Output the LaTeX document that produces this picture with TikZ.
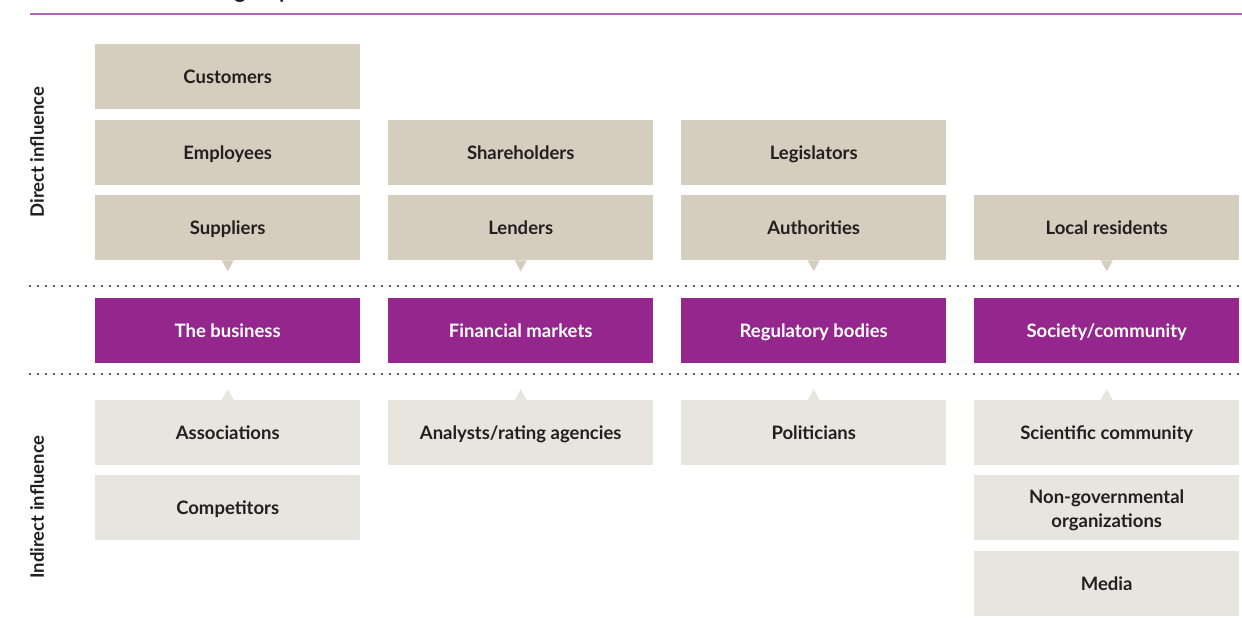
\documentclass[tikz,border=0pt]{standalone}
\usepackage{fontspec}
\setmainfont{Lato}
\definecolor{beige}{RGB}{213,205,190}
\definecolor{sand}{RGB}{232,228,222}
\definecolor{plum}{RGB}{148,38,142}
\definecolor{rulecol}{RGB}{183,100,182}
\definecolor{ink}{RGB}{35,31,32}
\begin{document}
\begin{tikzpicture}[x=1pt,y=-1pt,
  box/.style={minimum width=265pt, minimum height=65pt, inner sep=0pt,
    anchor=north west, align=center, text=ink,
    font=\fontsize{18.5}{24}\selectfont\bfseries},
  oneline/.style={text height=17pt, text depth=3pt},
  direct/.style={box, oneline, fill=beige},
  indirect/.style={box, oneline, fill=sand},
  indirecttwo/.style={box, fill=sand},
  hub/.style={box, oneline, fill=plum, text=white},
  sidelabel/.style={rotate=90, text=ink, font=\fontsize{18.5}{21}\selectfont\bfseries},
  dotline/.style={line width=2.2pt, line cap=round, dash pattern=on 0pt off 8pt, draw=ink}]
\useasboundingbox (0,0) rectangle (1242,639);

% heading (only its lower edge falls inside the page) and its rule
\node[anchor=base west, inner sep=0pt, text=ink,
  font=\fontsize{22}{26}\selectfont\bfseries] (title) at (112,-1) {Stakeholder groups};
\draw[rulecol, line width=2pt] (30,14) -- (1242,14);

% side labels
\node[sidelabel] (dlab) at (37,152) {Direct influence};
\node[sidelabel] (ilab) at (37,507) {Indirect influence};

% direct influence
\node[direct] (cust) at (95,44)  {Customers};
\node[direct] (empl) at (95,120) {Employees};
\node[direct] (supp) at (95,195) {Suppliers};
\node[direct] (shar) at (388,120) {Shareholders};
\node[direct] (lend) at (388,195) {Lenders};
\node[direct] (legi) at (681,120) {Legislators};
\node[direct] (auth) at (681,195) {Authorities};
\node[direct] (resi) at (974,195) {Local residents};

% separators
\coordinate (d1a) at (30,286);  \coordinate (d1b) at (1240,286);
\coordinate (d2a) at (30,374);  \coordinate (d2b) at (1240,374);
\draw[dotline] (d1a) -- (d1b);
\draw[dotline] (d2a) -- (d2b);

% central groups
\node[hub] (busi) at (95,298)  {The business};
\node[hub] (fina) at (388,298) {Financial markets};
\node[hub] (regu) at (681,298) {Regulatory bodies};
\node[hub] (soci) at (974,298) {Society/community};

% indirect influence
\node[indirect] (asso) at (95,400)  {Associations};
\node[indirect] (comp) at (95,475)  {Competitors};
\node[indirect] (anal) at (388,400) {Analysts/rating agencies};
\node[indirect] (poli) at (681,400) {Politicians};
\node[indirect] (scie) at (974,400) {Scientific community};
\node[indirecttwo] (ngos) at (974,475) {};
\node[text=ink, font=\fontsize{18.5}{24}\selectfont\bfseries, align=center,
  yshift=-3pt] (ngot) at (ngos.center) {Non-governmental\\organizations};
\node[indirect] (medi) at (974,551) {Media};

% pointers towards the central groups
\foreach \n in {supp,lend,auth,resi}
  \fill[beige] ([xshift=-6pt]\n.south) -- ([xshift=6pt]\n.south) -- ([yshift=-11pt]\n.south) -- cycle;
\foreach \n in {asso,anal,poli,scie}
  \fill[sand] ([xshift=-6pt]\n.north) -- ([xshift=6pt]\n.north) -- ([yshift=11pt]\n.north) -- cycle;
\end{tikzpicture}
\end{document}
